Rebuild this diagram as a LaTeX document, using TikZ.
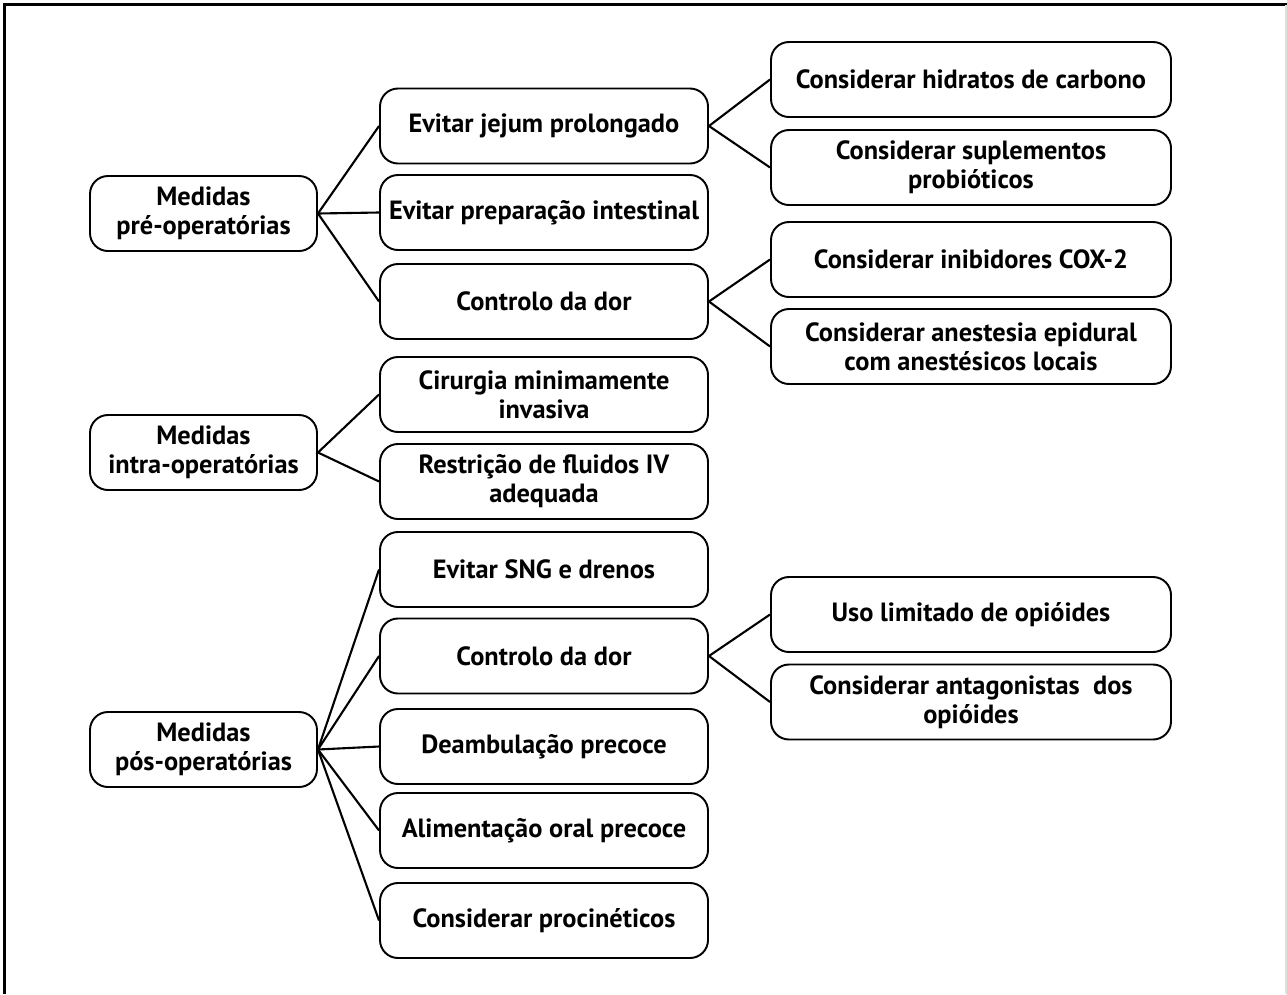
\documentclass[tikz,border=0pt]{standalone}
\usepackage{fontspec}
\setmainfont{PT Sans}
\usepackage{tikz}
\usetikzlibrary{calc}
\usetikzlibrary{positioning}

\tikzset{
  caixa/.style={draw, line width=1.1pt, rounded corners=0.36cm, minimum height=1.5cm,
    align=center, inner sep=2pt, font=\bfseries\fontsize{15}{16.5}\selectfont},
  medida/.style={caixa, minimum width=4.54cm},
  accao/.style={caixa, minimum width=6.56cm},
  detalhe/.style={caixa, minimum width=8.0cm},
  liga/.style={line width=1.2pt}
}

\begin{document}
\begin{tikzpicture}
      \useasboundingbox (0, 0) rectangle (25.74, -19.88);
      \draw[line width=1.5pt] (0.086, -19.88) -- (0.086, -0.094) -- (25.74, -0.094);
      \draw[gray!25, line width=1pt] (25.72, -0.094) -- (25.72, -19.88);

      \node[medida] (pre) at (4.07, -4.27) {Medidas\\pré-operatórias};
      \node[medida] (intra) at (4.07, -9.05) {Medidas\\intra-operatórias};
      \node[medida] (pos) at (4.07, -14.99) {Medidas\\pós-operatórias};

      \node[accao] (jejum) at (10.88, -2.52) {Evitar jejum prolongado};
      \node[accao] (prep) at (10.88, -4.25) {Evitar preparação intestinal};
      \node[accao] (dorpre) at (10.88, -6.03) {Controlo da dor};
      \node[accao] (cirurgia) at (10.88, -7.89) {Cirurgia minimamente\\invasiva};
      \node[accao] (fluidos) at (10.88, -9.63) {Restrição de fluidos IV\\adequada};
      \node[accao] (sng) at (10.88, -11.39) {Evitar SNG e drenos};
      \node[accao] (dorpos) at (10.88, -13.12) {Controlo da dor};
      \node[accao] (deamb) at (10.88, -14.93) {Deambulação precoce};
      \node[accao] (oral) at (10.88, -16.61) {Alimentação oral precoce};
      \node[accao] (procin) at (10.88, -18.41) {Considerar procinéticos};

      \node[detalhe] (hidratos) at (19.42, -1.59) {Considerar hidratos de carbono};
      \node[detalhe] (probio) at (19.42, -3.35) {Considerar suplementos\\probióticos};
      \node[detalhe] (cox) at (19.42, -5.19) {Considerar inibidores COX-2};
      \node[detalhe] (epidural) at (19.42, -6.93) {Considerar anestesia epidural\\com anestésicos locais};
      \node[detalhe] (opio) at (19.42, -12.29) {Uso limitado de opióides};
      \node[detalhe] (antag) at (19.42, -14.04) {Considerar antagonistas\ \ dos\\opióides};

      \foreach \filho in {jejum, prep, dorpre}
        \draw[liga] (pre.east) -- (\filho.west);
      \foreach \filho in {cirurgia, fluidos}
        \draw[liga] (intra.east) -- (\filho.west);
      \foreach \filho in {sng, dorpos, deamb, oral, procin}
        \draw[liga] (pos.east) -- (\filho.west);
      \draw[liga] (jejum.east) -- (hidratos.west);
      \draw[liga] (jejum.east) -- (probio.west);
      \draw[liga] (dorpre.east) -- (cox.west);
      \draw[liga] (dorpre.east) -- (epidural.west);
      \draw[liga] (dorpos.east) -- (opio.west);
      \draw[liga] (dorpos.east) -- (antag.west);
\end{tikzpicture}
\end{document}
